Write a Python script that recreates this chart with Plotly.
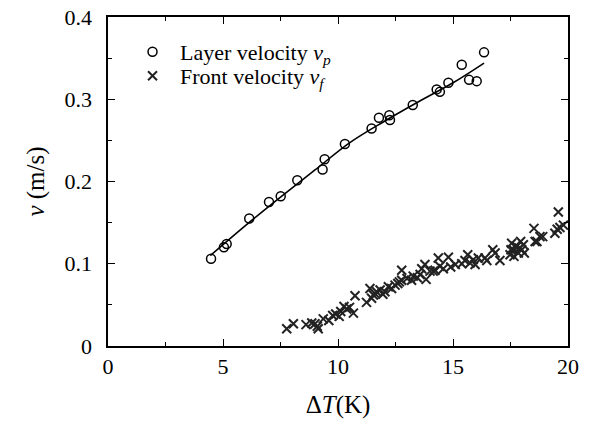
import plotly.graph_objects as go

# Layer velocity v_p (circles)
layer_dT = [4.48, 5.04, 5.16, 6.14, 7.00, 7.51, 8.23, 9.33, 9.42, 10.30,
            11.46, 11.78, 12.23, 12.26, 13.25, 14.29, 14.43, 14.80, 15.38,
            15.70, 16.03, 16.35]
layer_v = [0.106, 0.120, 0.124, 0.155, 0.175, 0.182, 0.2015, 0.2145, 0.227,
           0.2455, 0.2645, 0.2775, 0.2805, 0.2748, 0.293, 0.312, 0.309,
           0.320, 0.342, 0.3236, 0.322, 0.357]

# Fit curve through layer velocity
fit_dT = [4.45, 6.0, 7.5, 9.0, 10.5, 12.0, 13.5, 15.0, 16.35]
fit_v = [0.110, 0.147, 0.181, 0.214, 0.247, 0.273, 0.297, 0.320, 0.344]

# Front velocity v_f (crosses)
front_dT = [7.77, 8.06, 8.61, 8.86, 9.00, 9.10, 9.14, 9.36, 9.60, 9.77, 9.90,
            10.05, 10.12, 10.26, 10.38, 10.50, 10.67, 10.74, 11.24, 11.39,
            11.46, 11.54, 11.60, 11.68, 11.83, 11.95, 12.04, 12.19, 12.33,
            12.48, 12.60, 12.67, 12.77, 12.77, 13.00, 13.20, 13.27, 13.45,
            13.57, 13.64, 13.78, 13.83, 14.00, 14.14, 14.22, 14.36, 14.43,
            14.58, 14.80, 14.90, 15.10, 15.38, 15.52, 15.64, 15.74, 15.88,
            15.96, 16.10, 16.39, 16.47, 16.73, 16.83, 17.04, 17.48, 17.52,
            17.55, 17.62, 17.65, 17.70, 17.77, 17.84, 17.88, 17.94, 17.99,
            18.06, 18.10, 18.52, 18.57, 18.65, 18.78, 18.90, 19.43, 19.53,
            19.58, 19.65, 19.80]
front_v = [0.021, 0.027, 0.026, 0.028, 0.027, 0.024, 0.021, 0.033, 0.031,
           0.037, 0.039, 0.036, 0.042, 0.048, 0.045, 0.047, 0.040, 0.061,
           0.053, 0.070, 0.058, 0.062, 0.064, 0.066, 0.068, 0.063, 0.066,
           0.072, 0.070, 0.074, 0.076, 0.078, 0.092, 0.080, 0.082, 0.080,
           0.085, 0.083, 0.087, 0.094, 0.099, 0.081, 0.091, 0.091, 0.092,
           0.107, 0.097, 0.094, 0.108, 0.096, 0.099, 0.100, 0.104, 0.111,
           0.101, 0.105, 0.099, 0.107, 0.107, 0.104, 0.117, 0.113, 0.104,
           0.111, 0.117, 0.125, 0.117, 0.109, 0.121, 0.121, 0.113, 0.119,
           0.127, 0.117, 0.123, 0.113, 0.143, 0.127, 0.127, 0.133, 0.133,
           0.137, 0.142, 0.163, 0.144, 0.147]

x_ticks = [0, 5, 10, 15, 20]
x_ticklabels = ["0", "5", "10", "15", "20"]
y_ticks = [0, 0.1, 0.2, 0.3, 0.4]
y_ticklabels = ["0", "0.1", "0.2", "0.3", "0.4"]

FONT = "Liberation Serif"
PAD = "\u00a0\u2009"  # small gap between y tick labels and axis

fig = go.Figure()
fig.add_trace(go.Scatter(
    x=layer_dT, y=layer_v, mode="markers",
    marker=dict(symbol="circle-open", size=9, color="black",
                line=dict(width=1.5, color="black")),
    name="Layer velocity <i>v<sub>p</sub></i>", legend="legend"))
fig.add_trace(go.Scatter(
    x=fit_dT, y=fit_v, mode="lines", line=dict(color="black", width=1.6, shape="spline"),
    showlegend=False))
fig.add_trace(go.Scatter(
    x=front_dT, y=front_v, mode="markers",
    marker=dict(symbol="x-thin", size=9, color="#222",
                line=dict(width=2, color="#222")),
    name="Front velocity <i>v<sub>f</sub></i>", legend="legend2"))

axis_common = dict(
    showline=True, linecolor="black", linewidth=1.5, mirror="ticks",
    ticks="inside", ticklen=7, tickwidth=1.3, tickcolor="black",
    showgrid=False, zeroline=False, ticklabeloverflow="allow", automargin=False,
    tickfont=dict(family=FONT, size=22, color="black"),
)

legend_common = dict(
    xanchor="left", yanchor="top",
    font=dict(family=FONT, size=22, color="black"),
    bgcolor="rgba(0,0,0,0)", itemwidth=45,
)

fig.update_layout(
    width=585, height=419,
    margin=dict(l=100, r=25, t=9, b=81),
    paper_bgcolor="white", plot_bgcolor="white",
    font=dict(family=FONT, color="black"),
    xaxis=dict(range=[0, 20], tickvals=x_ticks, ticktext=x_ticklabels,
               minor=dict(dtick=2.5, ticks="inside", ticklen=4, tickcolor="black", tickwidth=1.2),
               title=dict(text="Δ<i>T</i>(K)", font=dict(family=FONT, size=25), standoff=17),
               **axis_common),
    yaxis=dict(range=[0, 0.4], tickvals=y_ticks,
               ticktext=[t + PAD for t in y_ticklabels],
               minor=dict(dtick=0.05, ticks="inside", ticklen=4, tickcolor="black", tickwidth=1.2),
               title=dict(text="<i>v</i> (m/s)", font=dict(family=FONT, size=25), standoff=13),
               **axis_common),
    legend=dict(x=0.037, y=0.9574, **legend_common),
    legend2=dict(x=0.037, y=0.8845, **legend_common),
)

fig.write_html("out.html")
